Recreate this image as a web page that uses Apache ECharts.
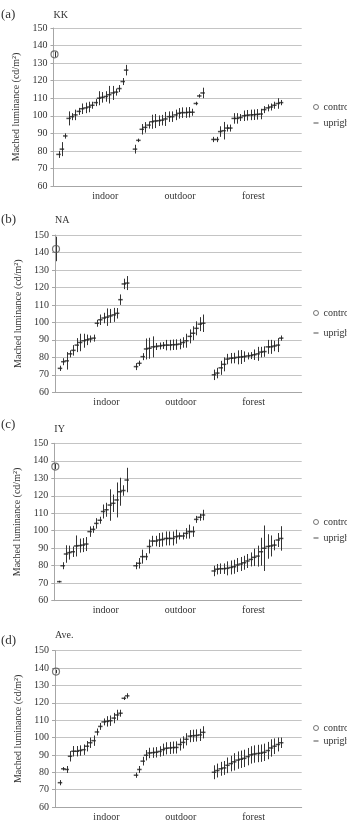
<!DOCTYPE html>
<html>
<head>
<meta charset="utf-8">
<script src="https://cdn.jsdelivr.net/npm/echarts@6/dist/echarts.min.js"></script>
<style>
html,body{margin:0;padding:0;background:#fff;}
#chart{width:347px;height:822px;}
</style>
</head>
<body>
<div id="chart"></div>
<script>
// ---- data ----
const groupLabels = ['indoor', 'outdoor', 'forest'];
const panelNames = ['KK', 'NA', 'IY', 'Ave.'];
const panelLetters = ['(a)', '(b)', '(c)', '(d)'];
const yTickMin = 60, yTickMax = 150, yTickStep = 10;

const controlMean = [135, 142, 136.7, 138];
const controlErr  = [1.5, 7, 1.5, 1];

// KK
const kkIndoor     = [78, 81, 88.5, 98.5, 99.5, 100.5, 102.5, 104, 104.5, 105, 106, 107.5, 110, 110.5, 111, 112, 113, 113.5, 115.5, 119.5, 126];
const kkIndoorErr  = [2, 4, 1.5, 4, 2, 3, 2, 3, 3, 3, 2, 2, 4, 3, 3, 5, 4, 2, 2, 2, 3];
const kkOutdoor    = [81, 86, 92.3, 93.4, 94.7, 96.6, 97, 97.2, 97.5, 98.2, 99.5, 99.5, 100.5, 101.4, 101.8, 101.8, 102, 102, 107, 111.3, 113];
const kkOutdoorErr = [2.5, 1, 3, 3, 2, 4, 4, 3, 3, 4, 3, 3, 3, 3, 3, 3, 3, 2, 1, 1, 3];
const kkForest     = [86.5, 86.5, 91, 91.5, 93, 93, 98.5, 98.5, 99, 100, 100.3, 100.5, 100.6, 100.8, 101, 103.5, 104.5, 105, 106, 107, 107.5];
const kkForestErr  = [1.5, 1.5, 3, 5, 2, 2, 3, 3, 2, 3, 3, 3, 3, 3, 3, 2, 2, 2, 2, 3, 1.5];
// NA
const naIndoor     = [73.7, 77.5, 78, 82, 84, 87, 88.5, 89.5, 90, 90.5, 91, 99.5, 101.5, 102.5, 103, 103.7, 104.3, 105.2, 113, 122, 122.5];
const naIndoorErr  = [1.5, 2, 5, 2, 3, 4, 5, 4, 3, 2, 2, 2, 3, 3, 5, 4, 4, 3, 3, 3, 4];
const naOutdoor    = [74.7, 76.6, 80.4, 84.8, 85.2, 86, 86.2, 86.5, 86.8, 87, 87, 87.2, 87.3, 87.6, 88.5, 89.5, 92, 93.8, 96.6, 99, 99.5];
const naOutdoorErr = [2, 1.5, 2, 6, 6, 6, 2, 2, 2, 3, 3, 3, 3, 3, 3, 4, 4, 4, 4, 4, 5];
const naForest     = [70, 71, 74, 76, 79, 79.5, 79.6, 80, 80.2, 80.4, 80.8, 81, 81.5, 82, 83, 83.3, 86, 86, 86.5, 87, 91];
const naForestErr  = [3, 3, 4, 4, 3, 3, 3, 4, 4, 3, 2, 2, 3, 4, 3, 3, 4, 4, 3, 4, 1.5];
// IY
const iyIndoor     = [70.9, 80, 86.7, 87.5, 88, 91.3, 91.5, 91.8, 92.4, 99.5, 100.8, 104.2, 106, 111, 112, 114.7, 115.7, 117.6, 122.3, 123, 129];
const iyIndoorErr  = [0.5, 2, 5, 4, 3, 6, 4, 4, 4, 3, 2, 3, 2, 4, 4, 9, 5, 10, 8, 3, 7];
const iyOutdoor    = [80, 81.4, 85.2, 85.2, 91, 94.1, 94.1, 94.7, 95, 95.6, 95.6, 95.6, 96.6, 97, 97, 98.5, 99.5, 99.5, 106.5, 107.7, 109];
const iyOutdoorErr = [2, 3, 4, 2, 4, 3, 3, 4, 4, 4, 4, 4, 4, 2, 2, 3, 4, 3, 2, 2, 3];
const iyForest     = [77, 78, 78.3, 78.3, 78.5, 79, 79.4, 80.4, 81, 81.7, 82.7, 83.6, 84.8, 85.5, 88, 90, 91, 91.3, 91.8, 94.7, 95.6];
const iyForestErr  = [3, 3, 3, 3, 4, 4, 4, 4, 4, 4, 4, 4, 5, 6, 8, 13, 7, 6, 3, 4, 7];
// Ave.
const aveIndoor     = [74, 82, 81.6, 89.2, 92.1, 92.1, 92.5, 93, 95, 97, 98.2, 103.2, 106.4, 109, 109.3, 109.7, 111.2, 113, 114, 122.6, 124];
const aveIndoorErr  = [1.5, 1, 2, 3, 3, 3, 3, 3, 3, 3, 3, 2, 2, 2, 3, 3, 3, 3, 2, 1, 1.5];
const aveOutdoor    = [78.3, 81.6, 86.4, 89.8, 91.1, 91.3, 91.5, 92, 93, 93.8, 94, 94.2, 94.3, 96, 97.2, 99, 100.8, 101, 101.2, 101.5, 103];
const aveOutdoorErr = [1.5, 2, 2.5, 3, 3, 3, 3, 3, 3.5, 3.5, 3.5, 3.5, 3.5, 3.5, 3.5, 3.5, 3.5, 3.5, 3.5, 3.5, 3.5];
const aveForest     = [80, 81, 82, 82.5, 84, 85, 86, 87, 87.5, 88, 89, 90, 90.5, 90.8, 91, 91.5, 92.5, 94, 95, 96, 97];
const aveForestErr  = [4, 4, 4, 4, 4.5, 4.5, 5, 5, 5, 5, 5, 5, 5, 5, 5, 5, 5, 5, 4.5, 4, 3];

const panelGroups = [
  [[kkIndoor, kkIndoorErr], [kkOutdoor, kkOutdoorErr], [kkForest, kkForestErr]],
  [[naIndoor, naIndoorErr], [naOutdoor, naOutdoorErr], [naForest, naForestErr]],
  [[iyIndoor, iyIndoorErr], [iyOutdoor, iyOutdoorErr], [iyForest, iyForestErr]],
  [[aveIndoor, aveIndoorErr], [aveOutdoor, aveOutdoorErr], [aveForest, aveForestErr]]
];

// ---- layout ----
const X_MAX = 73.4;
const CONTROL_X = 0.3;
const GROUP_START = [1.48, 24.1, 47.3];
const LABEL_X = [15.3, 37.4, 59.1];
const grids = [
  {left: 53.5, top: 28, bottom: 186},
  {left: 55, top: 235, bottom: 392.3},
  {left: 54.3, top: 443.3, bottom: 600.7},
  {left: 55, top: 650.7, bottom: 807.7}
];
const letterTop = [8, 213, 418, 634];
const nameTop = [10, 215, 424, 630];
const legendTop = [101, 307, 516, 722];
const legendGap = [4, 8, 4, 1];

const FONT = 'Liberation Serif';
const TXT = '#333';

const option = {
  animation: false,
  backgroundColor: '#fff',
  title: [], grid: [], xAxis: [], yAxis: [], series: [], legend: []
};

function barItem(params, api) {
  const x = api.value(0);
  const lo = api.coord([x, api.value(2)]);
  const hi = api.coord([x, api.value(3)]);
  const px = Math.round(lo[0]) + 0.5;
  return {type: 'line', shape: {x1: px, y1: lo[1], x2: px, y2: hi[1]},
          style: {stroke: '#333', lineWidth: 1}};
}

panelNames.forEach((nm, p) => {
  const g = grids[p];
  option.grid.push({left: g.left, top: g.top, width: 301.7 - g.left, height: g.bottom - g.top, containLabel: false});
  option.title.push({text: panelLetters[p], left: 1, top: letterTop[p], padding: 0,
    textStyle: {fontFamily: FONT, fontSize: 13, fontWeight: 'normal', color: TXT}});
  option.title.push({text: nm, left: g.left, top: nameTop[p], padding: 0,
    textStyle: {fontFamily: FONT, fontSize: 10, fontWeight: 'normal', color: TXT}});
  option.xAxis.push({
    type: 'value', gridIndex: p, min: 0, max: X_MAX,
    axisLine: {show: true, lineStyle: {color: '#a6a6a6', width: 1}},
    axisTick: {show: false},
    splitLine: {show: false},
    axisLabel: {
      customValues: LABEL_X, margin: 5,
      fontFamily: FONT, fontSize: 10, color: TXT,
      formatter: function (v) {
        let best = 0, d = Infinity;
        LABEL_X.forEach((lx, i) => { if (Math.abs(lx - v) < d) { d = Math.abs(lx - v); best = i; } });
        return groupLabels[best];
      }
    }
  });
  option.yAxis.push({
    type: 'value', gridIndex: p, min: yTickMin, max: yTickMax, interval: yTickStep,
    name: 'Mached luminance (cd/m²)', nameLocation: 'middle', nameGap: 23,
    nameTextStyle: {fontFamily: FONT, fontSize: 10, color: TXT},
    axisLine: {show: true, lineStyle: {color: '#a6a6a6', width: 1}},
    axisTick: {show: true, length: 3, lineStyle: {color: '#a6a6a6'}},
    splitLine: {show: true, lineStyle: {color: '#c4c4c4', width: 1}},
    axisLabel: {fontFamily: FONT, fontSize: 10, color: TXT, margin: 6}
  });

  // error bars data
  const bars = [[CONTROL_X, controlMean[p], controlMean[p] - controlErr[p], controlMean[p] + controlErr[p]]];
  const pts = [];
  panelGroups[p].forEach((grp, gi) => {
    const vals = grp[0], errs = grp[1];
    vals.forEach((v, i) => {
      const x = GROUP_START[gi] + i;
      bars.push([x, v, v - errs[i], v + errs[i]]);
      pts.push([x, v]);
    });
  });

  option.series.push({
    type: 'custom', name: 'errbar' + p, xAxisIndex: p, yAxisIndex: p,
    renderItem: barItem, data: bars, encode: {x: 0, y: [1, 2, 3]}, z: 2
  });
  option.series.push({
    type: 'scatter', name: 'upright', xAxisIndex: p, yAxisIndex: p,
    symbol: 'rect', symbolSize: [4.5, 1.5],
    itemStyle: {color: '#222'}, data: pts, z: 3
  });
  option.series.push({
    type: 'scatter', name: 'control', xAxisIndex: p, yAxisIndex: p,
    symbol: 'circle', symbolSize: 7,
    itemStyle: {color: 'rgba(255,255,255,0)', borderColor: '#555', borderWidth: 1.2},
    data: [[CONTROL_X, controlMean[p]]], z: 4
  });

  option.legend.push({
    orient: 'vertical', left: 313, top: legendTop[p], itemGap: legendGap[p], padding: 0,
    itemWidth: 5, itemHeight: 5, selectedMode: false,
    textStyle: {fontFamily: FONT, fontSize: 10, color: TXT, lineHeight: 12},
    data: [
      {name: 'control', icon: 'circle', itemStyle: {color: '#fff', borderColor: '#555', borderWidth: 1}},
      {name: 'upright', icon: 'path://M0,0h10v2h-10z', itemStyle: {color: '#222'}}
    ]
  });
});

const chart = echarts.init(document.getElementById('chart'), null, {renderer: 'canvas'});
chart.setOption(option);
</script>
</body>
</html>
